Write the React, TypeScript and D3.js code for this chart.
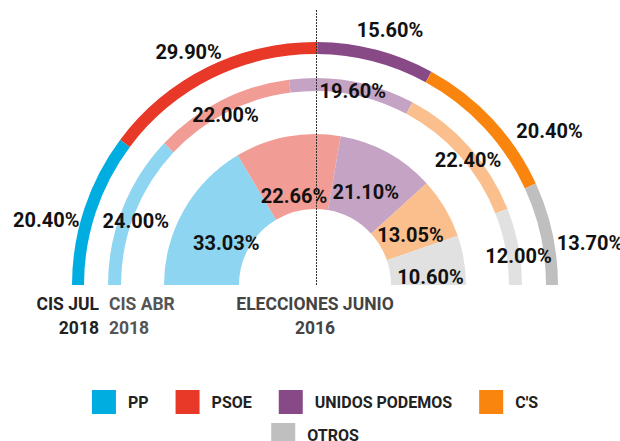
import React, { useMemo } from "react";
import * as d3 from "d3";

const parties = ["PP", "PSOE", "UNIDOS PODEMOS", "C'S", "OTROS"];
const cisJul2018 = [20.4, 29.9, 15.6, 20.4, 13.7];
const cisAbr2018 = [24.0, 22.0, 19.6, 22.4, 12.0];
const elecciones2016 = [33.03, 22.66, 21.1, 13.05, 10.6];
const strongColors = ["#00ADE0", "#E83828", "#874A86", "#F9850F", "#BFBFBF"];
const lightColors = ["#8DD5F1", "#F19C95", "#C5A3C5", "#FBBF8E", "#E1E1E1"];

const W = 620;
const H = 441;
const cx = 315;
const cy = 285;
const FONT = "Roboto, 'Open Sans', sans-serif";

// layout-only label nudges (px) per ring
const outerNudge = [[-20, 18], [-10, 2], [9, -1], [43, 25], [19, 14]];
const middleNudge = [[4, 9], [0, 6], [2, 0], [6, 6], [10, 8]];
const innerNudge = [[7, 12], [-1, 19], [-2, 3], [1, 6], [7, 10]];

const rings = [
  { values: cisJul2018, colors: strongColors, r0: 231, r1: 243, lr: 262, nudge: outerNudge },
  { values: cisAbr2018, colors: lightColors, r0: 194, r1: 207, lr: 197, nudge: middleNudge },
  { values: elecciones2016, colors: lightColors, r0: 76, r1: 151, lr: 110, nudge: innerNudge },
];

function measure(text: string, font: string) {
  const c = document.createElement("canvas").getContext("2d");
  if (!c) return text.length * 9;
  c.font = font;
  return c.measureText(text).width;
}

export default function App() {
  const pie = d3
    .pie<number>()
    .sort(null)
    .value((d) => d)
    .startAngle(-Math.PI / 2)
    .endAngle(Math.PI / 2);

  const legend = useMemo(() => {
    const font = `bold 16px ${FONT}`;
    const rows = [parties.slice(0, 4), parties.slice(4)];
    const out: { name: string; x: number; y: number; color: string }[] = [];
    rows.forEach((row, ri) => {
      const widths = row.map((n) => 24 + 12 + measure(n, font));
      const total = d3.sum(widths) + 27 * (row.length - 1);
      let x = cx - total / 2;
      row.forEach((n, i) => {
        out.push({ name: n, x, y: 390 + ri * 33, color: strongColors[parties.indexOf(n)] });
        x += widths[i] + 27;
      });
    });
    return out;
  }, []);

  return (
    <svg
      width={W}
      height={H}
      style={{ position: "absolute", left: 0, top: 0, background: "#fff" }}
      fontFamily={FONT}
    >
      <g transform={`translate(${cx},${cy})`}>
        {rings.map((ring, ri) => {
          const arc = d3.arc<d3.PieArcDatum<number>>().innerRadius(ring.r0).outerRadius(ring.r1);
          return (
            <g key={ri}>
              {pie(ring.values).map((d, i) => (
                <path key={i} d={arc(d) || ""} fill={ring.colors[i]} />
              ))}
            </g>
          );
        })}
        <line
          x1={1.5}
          x2={1.5}
          y1={10 - cy}
          y2={0}
          stroke="#333"
          strokeWidth={1}
          strokeDasharray="2,1"
        />
        {rings.map((ring, ri) =>
          pie(ring.values).map((d, i) => {
            const a = (d.startAngle + d.endAngle) / 2;
            const x = Math.sin(a) * ring.lr + ring.nudge[i][0];
            const y = -Math.cos(a) * ring.lr + ring.nudge[i][1];
            return (
              <text
                key={`${ri}-${i}`}
                x={x}
                y={y + 7}
                textAnchor="middle"
                fontSize={20}
                fontWeight="bold"
                fill="#111"
              >
                {d3.format(".2f")(d.data)}%
              </text>
            );
          })
        )}
      </g>
      <g fontWeight="bold" fontSize={17.5}>
        <text x={cx - 206 - 10} y={310} textAnchor="end" fill="#222">CIS JUL</text>
        <text x={cx - 206 - 10} y={334} textAnchor="end" fill="#222">2018</text>
        <text x={cx - 206} y={310} textAnchor="start" fill="#555">CIS ABR</text>
        <text x={cx - 206} y={334} textAnchor="start" fill="#555">2018</text>
        <text x={cx} y={310} textAnchor="middle" fill="#444">ELECCIONES JUNIO</text>
        <text x={cx} y={334} textAnchor="middle" fill="#444">2016</text>
      </g>
      <g>
        {legend.map((l) => (
          <g key={l.name}>
            <rect x={l.x} y={l.y} width={24} height={24} fill={l.color} />
            <text x={l.x + 36} y={l.y + 17.5} fontSize={16} fontWeight="bold" fill="#222">
              {l.name}
            </text>
          </g>
        ))}
      </g>
    </svg>
  );
}
